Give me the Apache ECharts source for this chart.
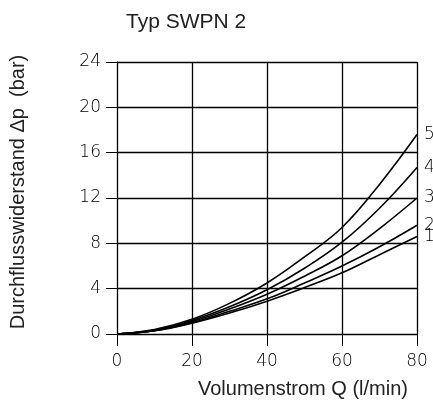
<!DOCTYPE html>
<html><head><meta charset="utf-8">
<script src="https://cdn.jsdelivr.net/npm/echarts@6/dist/echarts.min.js"></script>
<style>html,body{margin:0;padding:0;background:#fff}#c{width:433px;height:403px}</style>
</head><body><div id="c"></div>
<script>
const flowQ = [0, 10, 20, 30, 40, 50, 60, 70, 80];
const curve1 = [0, 0.28, 0.95, 1.85, 2.9, 4.1, 5.4, 7.0, 8.6];
const curve2 = [0, 0.3, 1.0, 2.0, 3.1, 4.5, 6.0, 7.7, 9.6];
const curve3 = [0, 0.32, 1.1, 2.2, 3.5, 5.1, 6.9, 9.3, 12.0];
const curve4 = [0, 0.35, 1.2, 2.4, 3.9, 5.8, 8.1, 11.1, 14.7];
const curve5 = [0, 0.4, 1.3, 2.7, 4.5, 6.8, 9.4, 13.2, 17.6];
const curveNames = ['1', '2', '3', '4', '5'];
const curves = [curve1, curve2, curve3, curve4, curve5];
const yTicks = [0, 4, 8, 12, 16, 20, 24];
const xTicks = [0, 20, 40, 60, 80];

const font = '"Liberation Sans", Arial, sans-serif';
const numFont = '"DejaVu Sans", sans-serif';
const txt = '#222';
const chart = echarts.init(document.getElementById('c'));
chart.setOption({
  animation: false,
  title: {
    text: 'Typ SWPN 2', left: 121, top: 7,
    textStyle: { fontFamily: font, fontSize: 21, fontWeight: 'normal', color: txt }
  },
  grid: { left: 115, right: 16, top: 62, bottom: 69 },
  xAxis: {
    type: 'value', min: 0, max: 80, interval: 20,
    name: 'Volumenstrom Q (l/min)', nameLocation: 'end', nameGap: 0,
    nameTextStyle: { fontFamily: font, fontSize: 20, color: txt, align: 'right', verticalAlign: 'top', padding: [45, 9, 0, 0] },
    axisLine: { show: true, lineStyle: { color: '#000', width: 1 } },
    axisTick: { show: true, length: 12, lineStyle: { color: '#000', width: 1 } },
    axisLabel: { margin: 19, fontFamily: numFont, fontWeight: 300, fontSize: 17, color: '#000' },
    splitLine: { show: true, lineStyle: { color: '#000', width: 1.3 } }
  },
  yAxis: {
    type: 'value', min: 0, max: 24, interval: 4,
    name: 'Durchflusswiderstand \u0394p  (bar)', nameLocation: 'middle', nameGap: 89,
    nameTextStyle: { fontFamily: font, fontSize: 20, color: txt, padding: [0, 0, 0, 12] },
    axisLine: { show: true, lineStyle: { color: '#000', width: 1 } },
    axisTick: { show: true, length: 11, lineStyle: { color: '#000', width: 1 } },
    axisLabel: { margin: 16, fontFamily: numFont, fontWeight: 300, fontSize: 17, color: '#000' },
    splitLine: { show: true, lineStyle: { color: '#000', width: 1.3 } }
  },
  series: curves.map((c, i) => ({
    type: 'line', name: curveNames[i], smooth: 0.4, symbol: 'none',
    data: flowQ.map((q, k) => [q, c[k]]),
    lineStyle: { color: '#000', width: 1.6 },
    endLabel: { show: true, formatter: '{a}', distance: 7, fontFamily: numFont, fontWeight: 300, fontSize: 17, color: '#000' }
  }))
});
</script></body></html>
